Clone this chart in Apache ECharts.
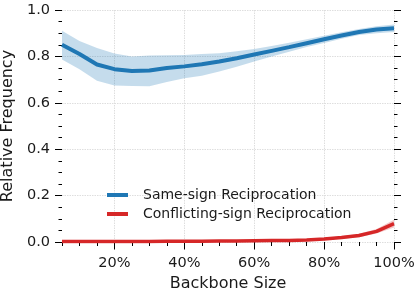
<!DOCTYPE html>
<html><head><meta charset="utf-8">
<script src="https://cdn.jsdelivr.net/npm/echarts@6/dist/echarts.min.js"></script>
<style>html,body{margin:0;padding:0;background:#fff}#c{width:420px;height:294px}</style>
</head><body><div id="c"></div>
<script>
const sizes = [5,10,15,20,25,30,35,40,45,50,55,60,65,70,75,80,85,90,95,100];
const sameMean  = [0.850,0.810,0.765,0.745,0.737,0.739,0.750,0.757,0.766,0.778,0.792,0.808,0.824,0.840,0.857,0.874,0.890,0.905,0.916,0.921];
const sameUpper = [0.911,0.866,0.836,0.812,0.800,0.804,0.805,0.806,0.810,0.814,0.822,0.832,0.845,0.859,0.874,0.889,0.904,0.918,0.930,0.937];
const sameLower = [0.787,0.745,0.695,0.675,0.672,0.671,0.690,0.706,0.717,0.735,0.755,0.778,0.800,0.820,0.840,0.858,0.876,0.892,0.900,0.905];
const confMean  = [0.002,0.002,0.002,0.002,0.002,0.002,0.003,0.003,0.003,0.004,0.004,0.005,0.006,0.007,0.009,0.013,0.019,0.028,0.046,0.079];
const confUpper = [0.004,0.004,0.004,0.004,0.004,0.004,0.005,0.005,0.005,0.006,0.006,0.007,0.008,0.009,0.012,0.017,0.025,0.036,0.056,0.096];
const confLower = [0.000,0.000,0.000,0.000,0.000,0.000,0.001,0.001,0.001,0.002,0.002,0.003,0.004,0.005,0.007,0.010,0.014,0.021,0.037,0.063];
const xMajorTicks = [20,40,60,80,100];
const seriesNames = ['Same-sign Reciprocation','Conflicting-sign Reciprocation'];

const BLUE = '#1f77b4', RED = '#d62728';
const FONT = 'DejaVu Sans';
const pair = (xs, ys) => xs.map((x,i)=>[x, ys[i]]);

function bandSeries(upper, lower, color){
  return {
    type:'custom', silent:true, clip:true, z:1,
    data:[[sizes[0], upper[0]]],
    renderItem:(params, api)=>{
      const pts = [];
      for (let i=0;i<sizes.length;i++) pts.push(api.coord([sizes[i], upper[i]]));
      for (let i=sizes.length-1;i>=0;i--) pts.push(api.coord([sizes[i], lower[i]]));
      const cs = params.coordSys;
      return {
        type:'polygon', shape:{points:pts},
        style:{fill:color, opacity:0.26},
        clipPath:{type:'rect', shape:{x:cs.x, y:cs.y, width:cs.width, height:cs.height}}
      };
    }
  };
}

const chart = echarts.init(document.getElementById('c'), null, {renderer:'canvas'});
const gridLine = {show:true, lineStyle:{color:'#dedede', type:[1.5,1], width:1}};
chart.setOption({
  animation:false,
  grid:{left:62, right:26, top:10, bottom:52, containLabel:false, outerBoundsMode:'none'},
  legend:{
    data:[{name:seriesNames[0]},{name:seriesNames[1]}],
    orient:'vertical', left:102, top:183, itemGap:5, padding:5,
    itemWidth:21, itemHeight:4, icon:'rect',
    textStyle:{fontFamily:FONT, fontSize:14, color:'#1a1a1a', padding:[0,0,0,10]}
  },
  xAxis:[{
    type:'value', min:5, max:100, position:'bottom',
    name:'Backbone Size', nameLocation:'middle', nameGap:33,
    nameTextStyle:{fontFamily:FONT, fontSize:16, color:'#1a1a1a'},
    axisLine:{show:false},
    axisTick:{show:true, length:7.5, customValues:xMajorTicks, lineStyle:{color:'#000', width:1}},
    axisLabel:{customValues:xMajorTicks, formatter:'{value}%', fontFamily:FONT, fontSize:14.5, color:'#1a1a1a', margin:14},
    splitLine:gridLine
  },{
    type:'value', min:5, max:100, interval:5, position:'bottom',
    axisLine:{show:false},
    axisTick:{show:true, length:4, lineStyle:{color:'#000', width:1}},
    axisLabel:{show:false}, splitLine:{show:false}
  }],
  yAxis:[{
    type:'value', min:0, max:1, interval:0.2, position:'left',
    name:'Relative Frequency', nameLocation:'middle', nameGap:40,
    nameTextStyle:{fontFamily:FONT, fontSize:16, color:'#1a1a1a'},
    axisLine:{show:false},
    axisTick:{show:true, length:7, lineStyle:{color:'#000'}},
    minorTick:{show:true, splitNumber:4, length:3.5, lineStyle:{color:'#000'}},
    axisLabel:{formatter:v=>v.toFixed(1), fontFamily:FONT, fontSize:14.5, color:'#1a1a1a', margin:12},
    splitLine:gridLine
  },{
    type:'value', min:0, max:1, interval:0.2, position:'right',
    axisLine:{show:false},
    axisTick:{show:true, length:7, lineStyle:{color:'#000'}},
    minorTick:{show:true, splitNumber:4, length:3.5, lineStyle:{color:'#000'}},
    axisLabel:{show:false}, splitLine:{show:false}
  }],
  series:[
    bandSeries(sameUpper, sameLower, BLUE),
    bandSeries(confUpper, confLower, RED),
    {name:seriesNames[0], type:'line', z:3, data:pair(sizes, sameMean), symbol:'none', color:BLUE, lineStyle:{width:4, color:BLUE}},
    {name:seriesNames[1], type:'line', z:3, data:pair(sizes, confMean), symbol:'none', color:RED, lineStyle:{width:3.5, color:RED}}
  ]
});
</script></body></html>
